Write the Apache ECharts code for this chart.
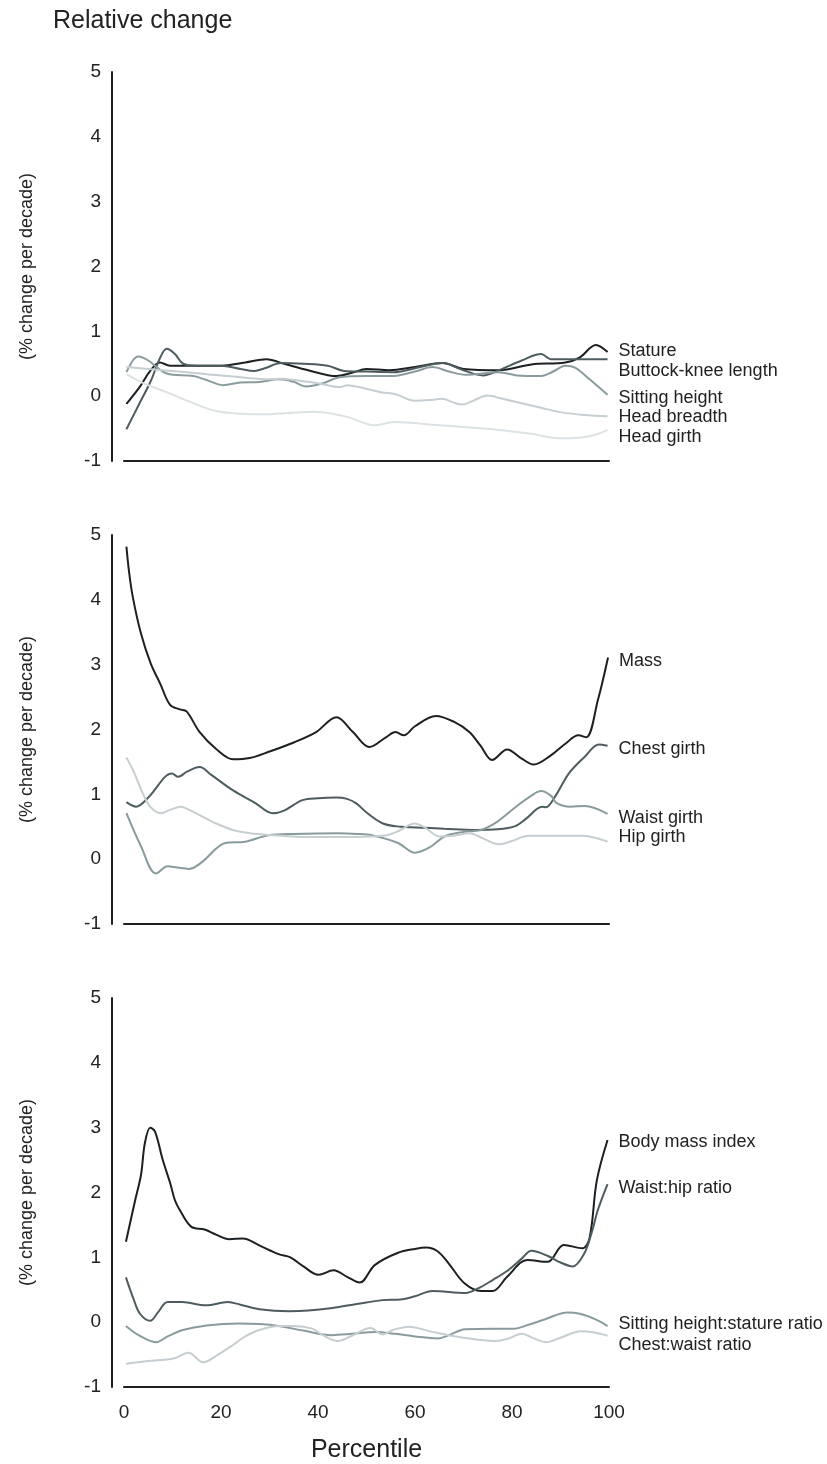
<!DOCTYPE html>
<html>
<head>
<meta charset="utf-8">
<script src="https://cdn.jsdelivr.net/npm/echarts@6/dist/echarts.min.js"></script>
<style>
html,body{margin:0;padding:0;background:#fff;}
#main{width:827px;height:1464px;}
</style>
</head>
<body>
<div id="main"></div>
<script>
// ---------- DATA ----------
const xTicks = [0, 20, 40, 60, 80, 100];
const yTicks = [-1, 0, 1, 2, 3, 4, 5];

// Panel 1
const stature = [[0.5,-0.12],[3.4,0.16],[5.4,0.39],[7.4,0.52],[9.5,0.47],[15,0.47],[20,0.47],[25,0.52],[29.4,0.57],[33,0.5],[38,0.4],[43.8,0.31],[47,0.36],[50,0.42],[54.7,0.40],[60,0.45],[65.7,0.51],[70,0.42],[77.3,0.40],[84,0.49],[91,0.52],[94,0.6],[97.3,0.79],[99.7,0.68]];
const buttockKnee = [[0.5,-0.51],[3,-0.14],[5.5,0.23],[7.5,0.6],[8.8,0.73],[10.5,0.65],[12.2,0.5],[15,0.47],[20,0.47],[24,0.42],[26.9,0.39],[29,0.43],[32.4,0.51],[37,0.5],[42,0.47],[45.4,0.39],[50,0.38],[55.6,0.37],[60,0.43],[65.7,0.51],[70,0.4],[74,0.32],[77.3,0.4],[82,0.55],[86,0.65],[88,0.57],[92,0.57],[96,0.57],[99.7,0.57]];
const sittingHeight = [[0.5,0.37],[2.9,0.61],[5,0.55],[8.8,0.35],[14.3,0.31],[17,0.25],[20.4,0.17],[24,0.21],[27.9,0.22],[32,0.26],[35,0.22],[37.5,0.15],[41,0.2],[44.4,0.29],[50,0.31],[55,0.31],[60,0.38],[63.6,0.45],[67,0.38],[70.4,0.33],[77.3,0.37],[81,0.32],[86,0.31],[88.5,0.38],[91,0.47],[93,0.44],[96,0.26],[99.7,0.02]];
const headBreadth = [[0.5,0.45],[8,0.4],[15.6,0.35],[24,0.29],[30,0.26],[32.4,0.27],[36,0.24],[40,0.2],[44.6,0.14],[46,0.17],[49,0.13],[53,0.06],[56,0.03],[60,-0.07],[63,-0.06],[65.6,-0.04],[68,-0.1],[69.7,-0.13],[72,-0.07],[75,0.01],[78,-0.04],[82,-0.11],[86,-0.18],[90.2,-0.25],[95,-0.29],[99.7,-0.31]];
const headGirth = [[0.5,0.34],[4,0.2],[8.8,0.06],[14,-0.1],[19,-0.23],[24,-0.27],[29.6,-0.28],[34,-0.26],[39.2,-0.24],[43,-0.27],[46,-0.32],[49,-0.4],[51.6,-0.45],[55.6,-0.40],[65,-0.45],[77.3,-0.52],[84,-0.58],[89.5,-0.65],[94,-0.64],[97,-0.6],[99.7,-0.52]];

// Panel 2
const mass = [[0.5,4.82],[1,4.46],[1.8,4.05],[3.5,3.48],[5.5,3.02],[7.5,2.7],[9.5,2.38],[11.5,2.31],[12.9,2.28],[15.6,1.96],[19,1.7],[22.5,1.54],[25.9,1.56],[30,1.66],[35,1.8],[39.6,1.96],[43.8,2.19],[47.2,1.96],[50.6,1.73],[54,1.88],[56,1.96],[57.7,1.91],[60,2.05],[64.3,2.21],[68,2.12],[71.2,1.96],[73.5,1.75],[75.9,1.53],[79,1.69],[82,1.55],[84.5,1.46],[88,1.6],[91,1.78],[93.7,1.91],[95.3,1.88],[97.7,2.45],[99.8,3.11]];
const chestGirth = [[0.5,0.88],[2.5,0.81],[5,0.95],[9.9,1.32],[11.2,1.27],[13,1.35],[15.6,1.42],[18,1.3],[22.5,1.06],[27,0.87],[30.7,0.71],[33,0.75],[36.8,0.91],[40,0.94],[43.8,0.95],[46,0.93],[47.9,0.86],[50,0.72],[53.4,0.55],[57,0.5],[60.2,0.49],[66,0.47],[72.5,0.45],[77,0.46],[80.7,0.51],[83,0.63],[86.2,0.81],[87,0.8],[89,0.98],[91.7,1.32],[95,1.58],[97.9,1.77],[99.7,1.75]];
const waistGirth = [[0.5,0.71],[3.5,0.2],[6.6,-0.22],[9,-0.11],[11,-0.13],[13.4,-0.15],[16,-0.05],[20.9,0.25],[25,0.27],[29.8,0.37],[35,0.39],[44.2,0.40],[48,0.39],[51.1,0.37],[56.5,0.25],[60,0.10],[63,0.18],[66.1,0.35],[70,0.42],[73.6,0.45],[77,0.58],[80.5,0.79],[84,0.98],[86,1.05],[88,0.98],[89.3,0.86],[92,0.81],[95,0.82],[99.7,0.70]];
const hipGirth = [[0.5,1.57],[2,1.35],[3.9,1.01],[5.5,0.8],[7.6,0.71],[9.5,0.76],[11.7,0.81],[13.5,0.76],[15.6,0.68],[19,0.55],[22.5,0.45],[26,0.4],[30.7,0.37],[37.5,0.34],[45,0.34],[53.4,0.36],[56.5,0.43],[59.9,0.55],[62,0.49],[65,0.35],[68,0.36],[71.2,0.40],[74,0.32],[77.3,0.23],[80,0.28],[83.4,0.36],[90,0.36],[94.4,0.36],[99.7,0.27]];

// Panel 3
const bmi = [[0.4,1.24],[2.3,1.88],[3.5,2.27],[4.3,2.76],[5.4,3.0],[6.4,2.94],[8,2.5],[9.5,2.15],[10.5,1.88],[11.5,1.73],[13.9,1.47],[16.6,1.43],[19,1.35],[21.7,1.28],[24.5,1.29],[28,1.18],[31.9,1.05],[34.3,1.0],[37,0.86],[40.1,0.73],[43.2,0.80],[46,0.7],[48.6,0.61],[51.7,0.88],[56.5,1.07],[60,1.13],[62.3,1.15],[64.7,1.09],[67,0.9],[70.2,0.60],[73.6,0.48],[76,0.48],[79,0.7],[83.2,0.96],[87.3,0.93],[90.7,1.19],[94.5,1.14],[96,1.3],[97.5,2.19],[99.7,2.81]];
const waistHip = [[0.4,0.69],[2,0.35],[3.3,0.13],[5.4,0.02],[7,0.15],[9,0.31],[12,0.31],[16.9,0.26],[21.4,0.31],[24,0.27],[27.9,0.20],[34,0.17],[38,0.18],[43,0.22],[48,0.28],[53.3,0.34],[57,0.35],[60,0.4],[63.6,0.48],[70.4,0.45],[73,0.52],[76,0.65],[79.2,0.80],[82,0.98],[84,1.10],[87.4,1.02],[90,0.92],[92.5,0.86],[94.9,1.06],[96.5,1.4],[97.7,1.73],[99.7,2.13]];
const sittingStature = [[0.4,-0.06],[3,-0.2],[6.6,-0.31],[9,-0.22],[12.1,-0.12],[17,-0.05],[23.7,-0.02],[28,-0.03],[31.9,-0.06],[37,-0.13],[42.8,-0.2],[47,-0.18],[51.8,-0.15],[56,-0.18],[60,-0.22],[64.8,-0.25],[67,-0.2],[70.3,-0.11],[76,-0.1],[80.5,-0.1],[83,-0.05],[87,0.05],[91.4,0.15],[94,0.13],[97,0.05],[99.7,-0.06]];
const chestWaist = [[0.4,-0.64],[5,-0.6],[10.2,-0.56],[13.3,-0.47],[16.3,-0.62],[19,-0.52],[22.5,-0.35],[25,-0.22],[27.9,-0.12],[32,-0.06],[35,-0.06],[38.8,-0.1],[41,-0.2],[44,-0.29],[47,-0.21],[50.8,-0.09],[53.3,-0.19],[55.5,-0.12],[58.7,-0.07],[63.6,-0.15],[70,-0.24],[76.5,-0.29],[79,-0.26],[82,-0.18],[84.5,-0.25],[87,-0.31],[90,-0.24],[94.2,-0.14],[97,-0.16],[99.7,-0.21]];

const panels = [
  [ ['Stature', stature], ['Buttock-knee length', buttockKnee], ['Sitting height', sittingHeight], ['Head breadth', headBreadth], ['Head girth', headGirth] ],
  [ ['Mass', mass], ['Chest girth', chestGirth], ['Waist girth', waistGirth], ['Hip girth', hipGirth] ],
  [ ['Body mass index', bmi], ['Waist:hip ratio', waistHip], ['Sitting height:stature ratio', sittingStature], ['Chest:waist ratio', chestWaist] ]
];

// ---------- STYLE ----------
const FONT = '"Liberation Sans", Arial, Helvetica, sans-serif';
const shades = ['#1c2022', '#4e5c60', '#8a9b9e', '#c6ced1', '#dde2e5'];
const labelOffsets = [
  [[0,-1],[0,12],[0,3],[0,1],[0,7]],
  [[0,3],[0,3],[0,4],[0,-5]],
  [[0,2],[0,4],[0,-2],[0,9]]
];
const gridTops = [72, 535, 998];
const AXIS = '#1c2022';
const TXT = '#222222';

const grids = [], xAxes = [], yAxes = [], series = [];
panels.forEach((pan, i) => {
  grids.push({ left: 124, width: 485, top: gridTops[i], height: 389 });
  xAxes.push({
    type: 'value', gridIndex: i, min: 0, max: 100, interval: 20,
    axisLine: { show: true, onZero: false, lineStyle: { color: AXIS, width: 2 } },
    axisTick: { show: false }, splitLine: { show: false },
    axisLabel: { show: i === 2, fontSize: 19, color: TXT, fontFamily: FONT, margin: 16 },
    name: i === 2 ? 'Percentile' : '', nameLocation: 'middle', nameGap: 51,
    nameTextStyle: { fontSize: 25, color: TXT, fontFamily: FONT }
  });
  yAxes.push({
    type: 'value', gridIndex: i, min: -1, max: 5, interval: 1, offset: 12,
    axisLine: { show: true, onZero: false, lineStyle: { color: AXIS, width: 2 } },
    axisTick: { show: false }, splitLine: { show: false },
    axisLabel: { fontSize: 19, color: TXT, fontFamily: FONT, margin: 11 },
    name: '(% change per decade)', nameLocation: 'middle', nameGap: 76, nameRotate: 90,
    nameTextStyle: { fontSize: 18, color: TXT, fontFamily: FONT }
  });
  pan.forEach((s, j) => {
    series.push({
      type: 'line', name: s[0], xAxisIndex: i, yAxisIndex: i, data: s[1],
      smooth: 0.35, showSymbol: false, silent: true,
      lineStyle: { color: shades[j], width: 2 },
      itemStyle: { color: shades[j] },
      endLabel: { show: true, formatter: s[0], distance: 11, offset: labelOffsets[i][j],
        fontSize: 18, color: TXT, fontFamily: FONT }
    });
  });
});

const chart = echarts.init(document.getElementById('main'), null, { renderer: 'canvas' });
chart.setOption({
  animation: false,
  backgroundColor: '#ffffff',
  title: { text: 'Relative change', left: 48, top: 4,
    textStyle: { fontSize: 25, fontWeight: 'normal', color: TXT, fontFamily: FONT } },
  grid: grids, xAxis: xAxes, yAxis: yAxes, series: series
});
</script>
</body>
</html>
